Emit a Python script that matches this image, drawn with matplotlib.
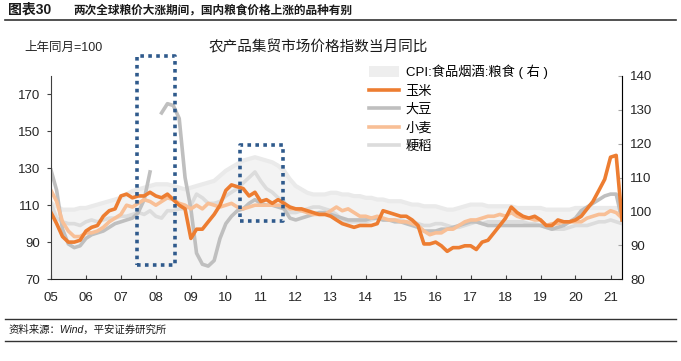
import numpy as np
import pandas as pd
import matplotlib
matplotlib.use('Agg')
import matplotlib.pyplot as plt
from matplotlib.lines import Line2D
from matplotlib.patches import Patch

plt.rcParams['font.family'] = ['Liberation Sans', 'Noto Sans CJK SC']

# bimonthly observations, Jan 2005 .. May 2021
dates = pd.date_range('2005-01-01', '2021-05-01', freq='2MS')

corn = [106, 100, 93, 90, 90, 91,
        96, 98, 99, 104, 107, 108,
        115, 116, 114, 115, 115, 117,
        115, 114, 116, 113, 110, 108,
        92, 97, 97, 101, 105, 110,
        118, 121, 120, 119, 115, 117,
        112, 113, 111, 113, 111, 109,
        108, 108, 107, 106, 105, 105,
        104, 102, 100, 99, 98, 99,
        99, 99, 100, 107, 106, 105,
        104, 104, 102, 99, 89, 89,
        90, 88, 85, 87, 87, 88,
        88, 86, 90, 91, 95, 99,
        103, 109, 106, 104, 103, 104,
        102, 99, 99, 102, 101, 101,
        102, 104, 108, 112, 118, 124,
        136, 137, 102]

soybean = [129, 118, 97, 89, 87, 88,
           92, 94, 95, 96, 98, 100,
           101, 102, 103, 106, 113, 128,
           np.nan, 160, 165, 164, 157, 125,
           108, 84, 78, 77, 80, 92,
           100, 104, 107, 108, 111, 113,
           111, 110, 110, 109, 108, 103,
           102, 103, 104, 105, 106, 106,
           105, 104, 103, 102, 102, 102,
           102, 103, 103, 102, 102, 101,
           101, 100, 99, 98, 96, 96,
           96, 97, 97, 98, 99, 100,
           101, 101, 100, 99, 99, 99,
           99, 99, 99, 99, 99, 99,
           99, 98, 97, 98, 99, 101,
           103, 107, 109, 111, 113, 115,
           116, 116, 102]

wheat = [118, 112, 101, 96, 93, 93,
         95, 95, 96, 98, 101, 103,
         105, 110, 109, 111, 113, 112,
         110, 112, 114, 113, 111, 110,
         108, 110, 108, 111, 110, 109,
         110, 111, 109, 108, 109, 110,
         110, 110, 110, 110, 110, 108,
         108, 107, 106, 105, 105, 105,
         107, 109, 107, 108, 106, 104,
         104, 103, 104, 103, 102, 102,
         101, 101, 100, 99, 96, 94,
         95, 95, 97, 97, 99, 101,
         102, 102, 103, 104, 104, 105,
         104, 106, 104, 103, 103, 102,
         102, 99, 100, 100, 101, 101,
         101, 101, 103, 104, 105, 105,
         107, 106, 103]

rice = [111, 103, 101, 100, 100, 99,
        101, 102, 101, 102, 103, 103,
        104, 104, 105, 106, 105, 107,
        104, 103, 107, 107, 108, 108,
        110, 116, 114, 111, 111, 112,
        115, 117, 119, 122, 125, 128,
        123, 119, 117, 114, 112, 106,
        106, 107, 108, 109, 109, 108,
        107, 105, 102, 101, 101, 101,
        101, 102, 103, 102, 102, 102,
        102, 101, 101, 100, 99, 99,
        100, 100, 99, 98, 98, 99,
        100, 101, 100, 101, 101, 101,
        101, 101, 101, 101, 100, 100,
        99, 98, 97, 97, 97, 98,
        99, 99, 99, 100, 101, 101,
        102, 101, 100]

cpi_grain = [102.5, 101.5, 100.5, 100.5, 100.5, 101,
             101, 101.5, 102, 102.5, 103, 103.5,
             104, 105, 106, 106.5, 107, 107.5,
             108, 108, 108, 107.5, 107, 106.5,
             107, 107.5, 108, 108.5, 109, 110.5,
             112, 113, 114, 115, 115.5, 116,
             115.5, 115, 114.5, 113.5, 112, 109.5,
             107.5, 106.5, 105.5, 105, 105, 105,
             105.5, 105.5, 105, 105, 104.5, 104.5,
             104, 104, 103.5, 103.5, 103, 103,
             103, 102.5, 102, 102, 101.5, 101.5,
             101.5, 101, 100.5, 100.5, 101, 101.5,
             102, 102, 102, 101.5, 101.5, 101.5,
             101.5, 101.5, 101, 101, 101, 101,
             101, 100.5, 100.5, 100.5, 100.5, 100.5,
             101, 101, 101, 101, 101, 101,
             101, 101, 101]

year_labels = ['05', '06', '07', '08', '09', '10', '11', '12', '13',
               '14', '15', '16', '17', '18', '19', '20', '21']

fig = plt.figure(figsize=(6.81, 3.61), dpi=100)
ax = fig.add_axes([0.0749, 0.2271, 0.8385, 0.5624])
ax2 = ax.twinx()
ax.set_zorder(ax2.get_zorder() + 1)
ax.patch.set_visible(False)

# CPI grain as area on the right axis
ax2.fill_between(dates, 80, cpi_grain, color='#f3f3f3', lw=0)
ax2.plot(dates, cpi_grain, color='#eaeaea', lw=3)
ax2.set_ylim(80, 140)
ax2.set_yticks(range(80, 141, 10))

ax.plot(dates, rice, color='#dcdcdc', lw=2.6)
ax.plot(dates, soybean, color='#bfbfbf', lw=2.6)
ax.plot(dates, wheat, color='#f8bf96', lw=2.6)
ax.plot(dates, corn, color='#ed7d31', lw=2.6)

ax.set_ylim(70, 180)
ax.set_yticks(range(70, 171, 20))
ax.set_xlim(dates[0], dates[-1])
ticks = pd.to_datetime(['20%s-01-01' % y for y in year_labels])
ax.set_xticks(ticks)
ax.set_xticklabels(year_labels)

# dotted highlight boxes
box_col = '#2f5a8c'
for (d0, d1, y0, y1) in [('2007-06-20', '2008-07-20', 77.6, 191),
                         ('2010-05-25', '2011-08-25', 101.2, 142.6)]:
    d0 = pd.Timestamp(d0)
    d1 = pd.Timestamp(d1)
    ax.plot([d0, d1, d1, d0, d0], [y0, y0, y1, y1, y0], color=box_col,
            lw=2.6, ls=(0, (1, 1.2)), clip_on=False, zorder=5)

for a in (ax, ax2):
    a.spines['top'].set_visible(False)
ax.spines['left'].set_color('#404040')
ax.spines['bottom'].set_color('#202020')
ax2.spines['right'].set_color('#a6a6a6')
ax2.spines['left'].set_visible(False)
ax2.spines['bottom'].set_visible(False)
ax.tick_params(axis='y', direction='out', length=3, color='#404040',
               labelsize=9.5, labelcolor='#262626', pad=5)
ax.tick_params(axis='x', direction='in', length=3, color='#404040',
               labelsize=9.5, labelcolor='#262626', pad=9)
ax2.tick_params(axis='y', direction='in', length=3, color='#a6a6a6',
                labelsize=9.5, labelcolor='#262626', pad=6)

handles = [Patch(facecolor='#eeeeee', edgecolor='none'),
           Line2D([], [], color='#ed7d31', lw=2.6),
           Line2D([], [], color='#bfbfbf', lw=2.6),
           Line2D([], [], color='#f8bf96', lw=2.6),
           Line2D([], [], color='#dcdcdc', lw=2.6)]
labels = ['CPI:食品烟酒:粮食 ( 右 )', '玉米', '大豆', '小麦', '粳稻']
fig.legend(handles, labels, loc='upper left', bbox_to_anchor=(0.528, 0.847),
           frameon=False, fontsize=9.5, handlelength=2.3, handleheight=0.9,
           labelspacing=0.42, handletextpad=0.5, borderpad=0.2)

fig.text(0.467, 0.868, '农产品集贸市场价格指数当月同比', ha='center',
         va='center', fontsize=10.5, color='#1a1a1a')
fig.text(0.036, 0.868, '上年同月=100', ha='left', va='center', fontsize=9,
         color='#262626')

fig.text(0.012, 0.972, '图表30', ha='left', va='center', fontsize=10,
         fontweight='bold', color='#1a1a1a')
fig.text(0.107, 0.972, '两次全球粮价大涨期间，国内粮食价格上涨的品种有别',
         ha='left', va='center', fontsize=8.4, fontweight='bold',
         color='#1a1a1a')
fig.add_artist(Line2D([0.007, 0.993], [0.944, 0.944], transform=fig.transFigure,
                      color='#333333', lw=1.2))

fig.add_artist(Line2D([0.007, 0.993], [0.117, 0.117], transform=fig.transFigure,
                      color='#333333', lw=1))
fig.text(0.012, 0.088, '资料来源：Wind，平安证券研究所', ha='left', va='center',
         fontsize=7.5, style='italic', color='#1a1a1a')
fig.add_artist(Line2D([0.007, 0.993], [0.056, 0.056], transform=fig.transFigure,
                      color='#333333', lw=1))

fig.savefig('out.png', dpi=100)
